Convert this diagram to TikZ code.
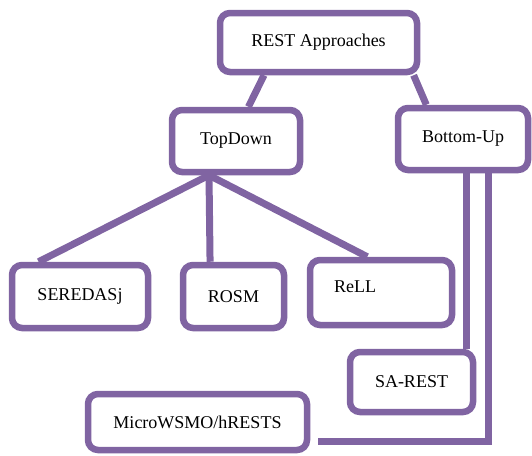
\documentclass[tikz,border=0pt]{standalone}
\usepackage{fontspec}
\setmainfont{Liberation Serif}
\definecolor{boxpurple}{HTML}{8064A2}
\tikzset{
        box/.style={draw=boxpurple,line width=6.5pt,rounded corners=10pt,
                fill=white,inner sep=0pt},
        link/.style={draw=boxpurple,line width=7pt}
}
\begin{document}
\begin{tikzpicture}[x=1pt,y=-1pt,font=\fontsize{18}{20}\selectfont]
        \useasboundingbox (0,0) rectangle (532,455) ;
        % top level
        \node[box,minimum width=197pt,minimum height=59pt] (rest)
        at (318.5,42.5) {REST Approaches} ;
        \node[box,minimum width=128pt,minimum height=62pt] (topdown)
        at (236,141) {TopDown} ;
        \node[box,minimum width=130pt,minimum height=62pt] (bottomup)
        at (463,139) {Bottom-Up} ;
        % top-down approaches
        \node[box,minimum width=136pt,minimum height=63pt] (seredasj)
        at (80,296.5) {SEREDASj} ;
        \node[box,minimum width=101pt,minimum height=63pt] (rosm)
        at (233.5,296.5) {ROSM} ;
        \node[box,minimum width=142pt,minimum height=65pt,
        label={[xshift=-26pt,yshift=5.5pt]center:ReLL}] (rell)
        at (381,292.5) {} ;
        % bottom-up approaches
        \node[box,minimum width=123pt,minimum height=60pt] (sarest)
        at (411.5,382) {SA-REST} ;
        \node[box,minimum width=219pt,minimum height=56pt] (micro)
        at (197.5,422) {MicroWSMO/hRESTS} ;
        % connectors
        \draw[link] (rest.211) -- (topdown.70) ;
        \draw[link] (rest.341) -- (bottomup.137) ;
        \coordinate (fork) at ([xshift=-27pt]topdown.south) ;
        \draw[link] (fork) -- (seredasj.140) ;
        \draw[link] (fork) -- (rosm.124) ;
        \draw[link] (fork) -- (rell.111) ;
        \draw[link] ([xshift=3pt]bottomup.south)
        -- ([xshift=3pt]bottomup.south |- sarest.north) ;
        \draw[link] ([xshift=25pt]bottomup.south)
        |- ([xshift=8pt,yshift=-19pt]micro.east) ;
\end{tikzpicture}
\end{document}
